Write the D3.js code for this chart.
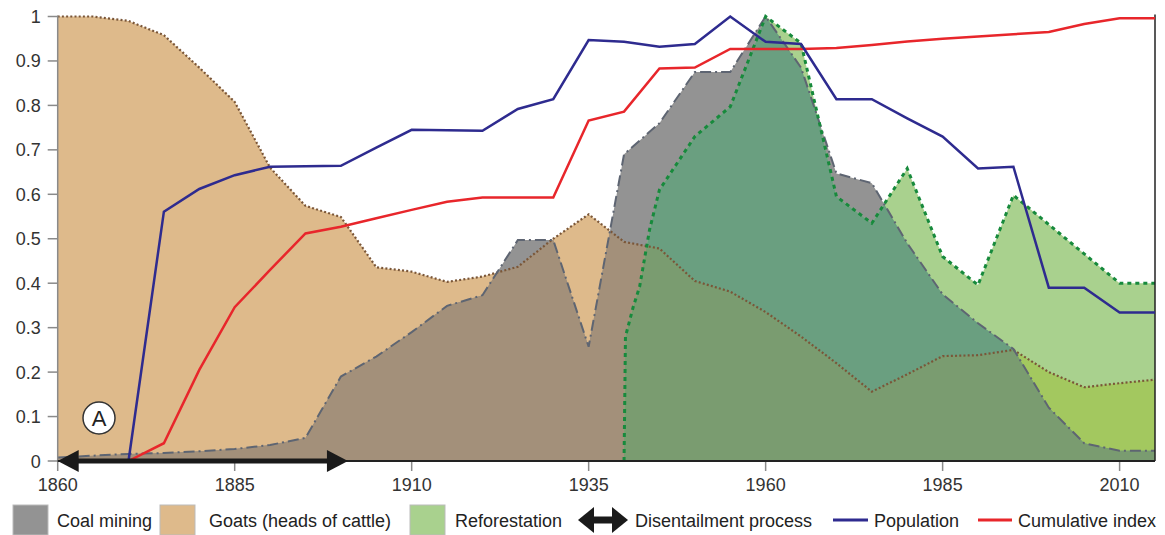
<!DOCTYPE html>
<html><head><meta charset="utf-8">
<script src="https://cdn.jsdelivr.net/npm/d3@7"></script>
<style>
body{margin:0;background:#fff;}
svg{display:block;font-family:Arial,"Liberation Sans",sans-serif;}
</style></head>
<body><svg id="chart" width="1165" height="535"></svg>
<script>
// ---------- data ----------
const years = [1860,1865,1870,1875,1880,1885,1890,1895,1900,1905,1910,1915,1920,1925,1930,1935,1940,1945,1950,1955,1960,1965,1970,1975,1980,1985,1990,1995,2000,2005,2010,2015];
const goats = [1.0,1.0,0.99,0.958,0.885,0.808,0.66,0.574,0.549,0.436,0.426,0.403,0.415,0.437,0.5,0.555,0.493,0.478,0.405,0.381,0.335,0.28,0.22,0.156,0.195,0.236,0.238,0.25,0.2,0.166,0.175,0.183];
const coal = [0.008,0.012,0.016,0.018,0.022,0.027,0.036,0.052,0.19,0.235,0.29,0.349,0.373,0.497,0.497,0.257,0.69,0.76,0.875,0.875,1.0,0.885,0.647,0.625,0.49,0.375,0.31,0.252,0.12,0.04,0.023,0.023];
const refYears = [1940,1940.2,1941.3,1942.2,1943.6,1945,1950,1955,1960,1965,1970,1975,1980,1985,1990,1995,2000,2005,2010,2015];
const reforestation = [0,0.28,0.347,0.392,0.52,0.61,0.73,0.797,1.0,0.94,0.595,0.535,0.658,0.46,0.396,0.598,0.532,0.466,0.4,0.4];
const lineYears = [1870,1875,1880,1885,1890,1895,1900,1905,1910,1915,1920,1925,1930,1935,1940,1945,1950,1955,1960,1965,1970,1975,1980,1985,1990,1995,2000,2005,2010,2015];
const population = [0,0.561,0.612,0.643,0.662,0.663,0.664,0.705,0.745,0.744,0.743,0.792,0.814,0.947,0.943,0.932,0.938,1.0,0.943,0.938,0.814,0.814,0.771,0.73,0.658,0.662,0.39,0.39,0.334,0.334];
const cumulative = [0,0.04,0.205,0.346,0.43,0.512,0.527,0.546,0.565,0.583,0.593,0.593,0.593,0.766,0.786,0.883,0.885,0.927,0.927,0.927,0.929,0.936,0.944,0.95,0.955,0.96,0.965,0.983,0.996,0.996];
const disentailment = [1860,1901];
const xTicks = [1860,1885,1910,1935,1960,1985,2010];
const yTicks = [0,0.1,0.2,0.3,0.4,0.5,0.6,0.7,0.8,0.9,1];
const yTickLabels = ["0","0.1","0.2","0.3","0.4","0.5","0.6","0.7","0.8","0.9","1"];
const legendLabels = ["Coal mining","Goats (heads of cattle)","Reforestation","Disentailment process","Population","Cumulative index"];

// ---------- setup ----------
const svg = d3.select("#chart");
const x = d3.scaleLinear().domain([1860,2015]).range([57.7,1155]);
const y = d3.scaleLinear().domain([0,1]).range([461,16.5]);

const C = {
  tan:"#deba8b", gray:"#939393", tanGray:"#a3907a",
  green:"#a9d18e", greenGray:"#6a9f80", greenTan:"#a3c85f", greenGrayTan:"#7a9c70",
  blue:"#2e2b8f", red:"#e8262b"
};

const goatData = years.map((d,i)=>[d,goats[i]]);
const coalData = years.map((d,i)=>[d,coal[i]]);
const refData = refYears.map((d,i)=>[d,reforestation[i]]);
const popData = lineYears.map((d,i)=>[d,population[i]]);
const cumData = lineYears.map((d,i)=>[d,cumulative[i]]);

const area = d3.area().x(d=>x(d[0])).y0(y(0)).y1(d=>y(d[1]));
const line = d3.line().x(d=>x(d[0])).y(d=>y(d[1]));

const defs = svg.append("defs");
defs.append("clipPath").attr("id","cTan").append("path").attr("d",area(goatData));
defs.append("clipPath").attr("id","cGray").append("path").attr("d",area(coalData));

// fills
svg.append("path").attr("d",area(goatData)).attr("fill",C.tan);
svg.append("path").attr("d",area(coalData)).attr("fill",C.gray);
svg.append("path").attr("d",area(coalData)).attr("fill",C.tanGray).attr("clip-path","url(#cTan)");
svg.append("path").attr("d",area(refData)).attr("fill",C.green);
svg.append("path").attr("d",area(refData)).attr("fill",C.greenTan).attr("clip-path","url(#cTan)");
svg.append("path").attr("d",area(refData)).attr("fill",C.greenGray).attr("clip-path","url(#cGray)");
svg.append("g").attr("clip-path","url(#cGray)")
  .append("path").attr("d",area(refData)).attr("fill",C.greenGrayTan).attr("clip-path","url(#cTan)");

// outlines
svg.append("path").attr("d",line(goatData)).attr("fill","none")
  .attr("stroke","#7a5638").attr("stroke-width",2.2).attr("stroke-dasharray","2,2.2");
svg.append("path").attr("d",line(coalData)).attr("fill","none")
  .attr("stroke","#5e6572").attr("stroke-width",2).attr("stroke-dasharray","11,4,2,4");
svg.append("path").attr("d",line(refData)).attr("fill","none")
  .attr("stroke","#178a3c").attr("stroke-width",3).attr("stroke-dasharray","4,4");

// axes
const ax = svg.append("g");
ax.append("line").attr("x1",x(1860)).attr("x2",x(1860)).attr("y1",y(1)-1).attr("y2",y(0))
  .attr("stroke","#8a8a8a").attr("stroke-width",1.5);
ax.append("line").attr("x1",x(2015)).attr("x2",x(2015)).attr("y1",y(1)-2).attr("y2",y(0))
  .attr("stroke","#222").attr("stroke-width",1.5);
ax.selectAll(".yt").data(yTicks).enter().append("line")
  .attr("x1",x(1860)-10).attr("x2",x(1860)).attr("y1",d=>y(d)).attr("y2",d=>y(d))
  .attr("stroke","#8a8a8a").attr("stroke-width",1.5);
ax.selectAll(".yl").data(yTicks).enter().append("text")
  .attr("x",x(1860)-17).attr("y",d=>y(d)+6.5).attr("text-anchor","end")
  .attr("font-size",18).attr("fill","#333").text((d,i)=>yTickLabels[i]);
ax.selectAll(".xt").data(xTicks).enter().append("line")
  .attr("x1",d=>x(d)).attr("x2",d=>x(d)).attr("y1",y(0)).attr("y2",y(0)+10)
  .attr("stroke","#8a8a8a").attr("stroke-width",1.5);
ax.selectAll(".xl").data(xTicks).enter().append("text")
  .attr("x",d=>x(d)).attr("y",y(0)+30).attr("text-anchor","middle")
  .attr("font-size",18).attr("fill","#333").text(d=>d);
ax.append("line").attr("x1",x(1860)).attr("x2",x(2015)).attr("y1",y(0)).attr("y2",y(0))
  .attr("stroke","#222").attr("stroke-width",2);

// lines
svg.append("path").attr("d",line(cumData)).attr("fill","none").attr("stroke",C.red).attr("stroke-width",2.5);
svg.append("path").attr("d",line(popData)).attr("fill","none").attr("stroke",C.blue).attr("stroke-width",2.5);

// disentailment arrow
function dblArrow(g, x0, x1, cy, head, hh, th){
  g.append("rect").attr("x",x0+head-1).attr("y",cy-th/2).attr("width",x1-x0-2*head+2).attr("height",th).attr("fill","#1a1a1a");
  g.append("path").attr("d",`M${x0},${cy}L${x0+head},${cy-hh/2}L${x0+head},${cy+hh/2}Z`).attr("fill","#1a1a1a");
  g.append("path").attr("d",`M${x1},${cy}L${x1-head},${cy-hh/2}L${x1-head},${cy+hh/2}Z`).attr("fill","#1a1a1a");
}
dblArrow(svg.append("g"), x(disentailment[0]), x(disentailment[1]), y(0), 21, 22, 5);

// "A" marker
const gA = svg.append("g");
gA.append("circle").attr("cx",99).attr("cy",418).attr("r",16).attr("fill","#fff").attr("stroke","#333").attr("stroke-width",1.5);
gA.append("text").attr("x",99).attr("y",426).attr("text-anchor","middle").attr("font-size",22).attr("fill","#222").text("A");

// legend
const lg = svg.append("g");
const ly = 527;
const sq = [[13,C.gray],[160,C.tan],[410,C.green]];
sq.forEach(([sx,col])=>{
  lg.append("rect").attr("x",sx).attr("y",505).attr("width",35).attr("height",30).attr("fill",col).attr("stroke","#bbb").attr("stroke-width",1);
});
const lx = [57,209,455,635,874,1018];
legendLabels.forEach((t,i)=>{
  lg.append("text").attr("x",lx[i]).attr("y",ly).attr("font-size",18).attr("fill","#222").text(t);
});
dblArrow(lg.append("g"), 578, 628, 520, 16, 26, 7);
lg.append("line").attr("x1",833).attr("x2",868).attr("y1",520).attr("y2",520).attr("stroke",C.blue).attr("stroke-width",3);
lg.append("line").attr("x1",978).attr("x2",1012).attr("y1",520).attr("y2",520).attr("stroke",C.red).attr("stroke-width",3);
</script></body></html>
